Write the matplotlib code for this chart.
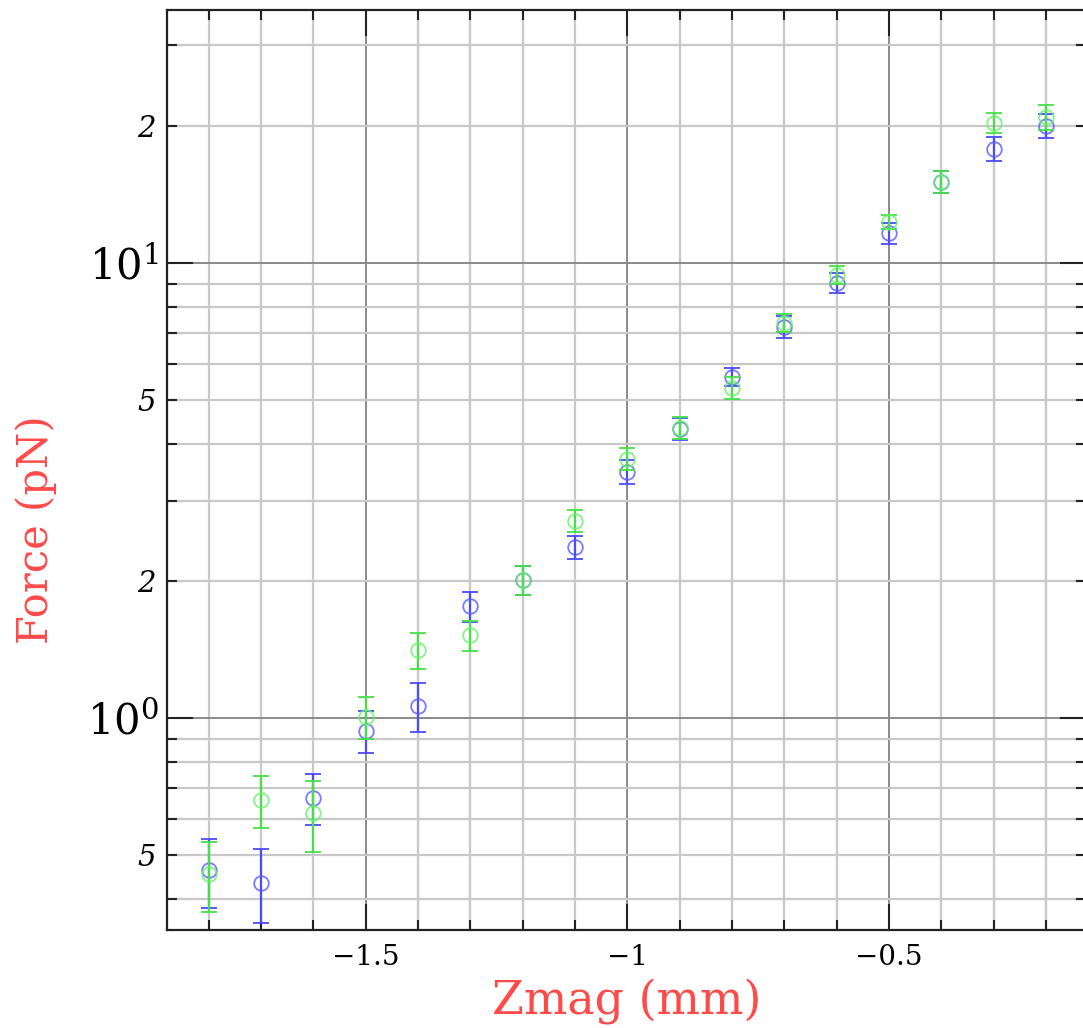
import matplotlib
matplotlib.use("Agg")
import matplotlib.pyplot as plt
from matplotlib.ticker import LogLocator, MultipleLocator, FuncFormatter
import numpy as np

# Magnet position (mm)
zmag = [-1.8, -1.7, -1.6, -1.5, -1.4, -1.3, -1.2, -1.1, -1.0,
        -0.9, -0.8, -0.7, -0.6, -0.5, -0.4, -0.3, -0.2]

# Force measurements (pN) and their errors, two runs
force_blue = [0.463, 0.434, 0.667, 0.936, 1.063, 1.76, 2.01, 2.37, 3.47,
              4.32, 5.62, 7.23, 9.04, 11.6, 15.07, 17.8, 20.0]
err_blue = [0.08, 0.08, 0.085, 0.10, 0.13, 0.135, 0.15, 0.14, 0.21,
            0.24, 0.26, 0.40, 0.45, 0.60, 0.85, 1.05, 1.25]

force_green = [0.454, 0.66, 0.618, 1.005, 1.41, 1.52, 2.01, 2.71, 3.71,
               4.34, 5.31, 7.38, 9.41, 12.3, 15.07, 20.3, 20.9]
err_green = [0.08, 0.087, 0.11, 0.105, 0.13, 0.115, 0.15, 0.15, 0.20,
             0.25, 0.30, 0.35, 0.43, 0.45, 0.85, 1.05, 1.30]

plt.rcParams["font.family"] = ["DejaVu Serif"]
plt.rcParams["mathtext.fontset"] = "dejavuserif"

fig = plt.figure(figsize=(10.83, 10.28), dpi=100)
ax = fig.add_axes([0.1542, 0.0953, 1.003 - 0.1542, 0.9903 - 0.0953])

ax.set_yscale("log")
ax.set_xlim(-1.88, -0.123)
ax.set_ylim(0.342, 35.9)

# Grid
ax.xaxis.set_major_locator(MultipleLocator(0.5))
ax.xaxis.set_minor_locator(MultipleLocator(0.1))
ax.yaxis.set_major_locator(LogLocator(base=10, numticks=10))
ax.yaxis.set_minor_locator(LogLocator(base=10, subs=np.arange(2, 10), numticks=20))
ax.grid(True, which="minor", color="#c8c8c8", lw=1.6, zorder=0)
ax.grid(True, which="major", color="#8a8a8a", lw=1.4, zorder=0)
ax.set_axisbelow(True)

# Data
ax.errorbar(zmag, force_blue, yerr=err_blue, fmt="o", mfc="none",
            mec=(0.35, 0.35, 1.0, 0.8), ms=10.5, mew=1.3,
            ecolor="#4a4aff", elinewidth=1.6, capsize=6, capthick=1.4, zorder=3)
ax.errorbar(zmag, force_green, yerr=err_green, fmt="o", mfc="none",
            mec=(0.4, 0.95, 0.4, 0.8), ms=10.5, mew=1.3,
            ecolor="#45e045", elinewidth=1.6, capsize=6, capthick=1.4, zorder=4)

# Ticks
ax.tick_params(which="both", direction="in", top=True, right=True, width=1.5,
               color="#222222")
ax.tick_params(which="major", length=19)
ax.tick_params(which="minor", length=7)
ax.tick_params(axis="x", which="major", labelsize=20, pad=10)
ax.tick_params(axis="y", which="major", labelsize=30, pad=6)
ax.tick_params(axis="y", which="minor", labelsize=21, pad=8)

ax.xaxis.set_major_formatter(FuncFormatter(
    lambda v, p: "\u2212%g" % abs(v) if v < 0 else "%g" % v))
ax.yaxis.set_major_formatter(FuncFormatter(
    lambda v, p: r"$10^{%d}$" % int(round(np.log10(v)))))


def minor_fmt(v, p):
    m = int(round(v / 10 ** np.floor(np.log10(v) + 1e-9)))
    return str(m) if m in (2, 5) else ""


ax.yaxis.set_minor_formatter(FuncFormatter(minor_fmt))
for lab in ax.yaxis.get_minorticklabels():
    lab.set_fontstyle("italic")

for s in ax.spines.values():
    s.set_linewidth(1.6)
    s.set_color("#222222")

ax.set_xlabel("Zmag (mm)", color="#ff4a4a", fontsize=33, labelpad=6)
ax.set_ylabel("Force (pN)", color="#ff4a4a", fontsize=30)
ax.yaxis.set_label_coords(-0.12, 0.435)

fig.savefig("out.png", dpi=100)
